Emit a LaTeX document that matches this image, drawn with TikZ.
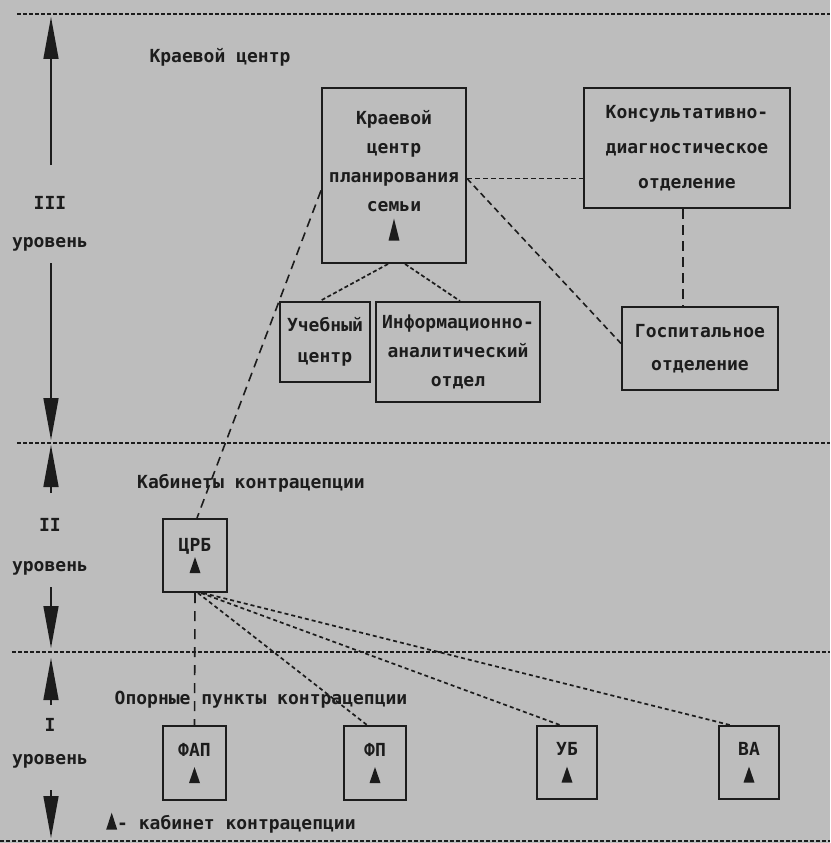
\documentclass[tikz,border=0pt]{standalone}
\usepackage{fontspec}
\setmainfont{DejaVu Sans Mono}
\usetikzlibrary{arrows.meta,positioning}
\definecolor{ScanGray}{RGB}{189,189,189}
\definecolor{InkBlack}{RGB}{28,28,28}
\newcommand{\kab}[1][16pt]{\tikz[baseline=0pt]\fill[InkBlack] (0,0)--(5.5pt,#1)--(11pt,0)--cycle;}
\tikzset{
  txt/.style={text=InkBlack,font=\fontsize{18}{29}\selectfont\bfseries,inner sep=1pt,align=center},
  unit/.style={txt,draw=InkBlack,line width=2pt,inner sep=0pt},
  sepline/.style={InkBlack,line width=2.2pt,dash pattern=on 4pt off 2pt},
  lvlarrow/.style={-{Triangle[length=42pt,width=15pt]},InkBlack,line width=1.5pt},
  longdash/.style={InkBlack,line width=1.6pt,dash pattern=on 9pt off 6pt},
  shortdash/.style={InkBlack,line width=1.7pt,dash pattern=on 4pt off 2.5pt}
}

\begin{document}
\begin{tikzpicture}[x=1pt,y=-1pt]
  \fill[ScanGray] (0,0) rectangle (830,843);
  \useasboundingbox (0,0) rectangle (830,843);
  % level borders
  \foreach \y/\x in {14/17,443/17,652/12,841/0}
    \draw[sepline] (\x,\y) -- (830,\y);
  % level marks
  \node[txt,font=\fontsize{18}{38}\selectfont\bfseries] (lvl3) at (50,224) {III\\уровень};
  \node[txt,font=\fontsize{18}{40}\selectfont\bfseries] (lvl2) at (50,547) {II\\уровень};
  \node[txt,font=\fontsize{18}{33}\selectfont\bfseries] (lvl1) at (50,743) {I\\уровень};
  \draw[lvlarrow] (51,165) -- (51,17);
  \draw[lvlarrow] (51,263) -- (51,440);
  \draw[lvlarrow] (51,493) -- (51,445);
  \draw[lvlarrow] (51,587) -- (51,648);
  \draw[lvlarrow] (51,705) -- (51,658);
  \draw[lvlarrow] (51,790) -- (51,838);
  % captions
  \node[txt] (cap3) at (220,57) {Краевой центр};
  \node[txt] (cap2) at (251,483) {Кабинеты контрацепции};
  \node[txt] (cap1) at (261,700) {Опорные пункты контрацепции};
  \node[txt,anchor=west] (legend) at (105,823) {\kab[17pt]- кабинет контрацепции};
  % level III
  \node[unit,minimum width=144pt,minimum height=175pt] (kc) at (394,175.5)
    {Краевой\\центр\\планирования\\семьи\\\kab[22pt]};
  \node[unit,font=\fontsize{18}{35}\selectfont\bfseries,minimum width=206pt,minimum height=120pt]
    (kdo) at (687,148) {Консультативно-\\диагностическое\\отделение};
  \node[unit,font=\fontsize{18}{33}\selectfont\bfseries,minimum width=156pt,minimum height=83pt]
    (gosp) at (700,348.5) {Госпитальное\\отделение};
  \node[unit,font=\fontsize{18}{31}\selectfont\bfseries,minimum width=90pt,minimum height=80pt]
    (ucheb) at (325,342) {Учебный\\центр};
  \node[unit,minimum width=164pt,minimum height=100pt] (inform) at (458,352)
    {Информационно-\\аналитический\\отдел};
  % level II
  \node[unit,font=\fontsize{18}{22}\selectfont\bfseries,minimum width=64pt,minimum height=73pt]
    (crb) at (195,555.5) {ЦРБ\\\kab};
  % level I
  \node[unit,font=\fontsize{18}{27}\selectfont\bfseries,minimum width=63pt,minimum height=74pt]
    (fap) at (194.5,763) {ФАП\\\kab};
  \node[unit,font=\fontsize{18}{27}\selectfont\bfseries,minimum width=62pt,minimum height=74pt]
    (fp) at (375,763) {ФП\\\kab};
  \node[unit,font=\fontsize{18}{27}\selectfont\bfseries,minimum width=60pt,minimum height=73pt]
    (ub) at (567,762.5) {УБ\\\kab};
  \node[unit,font=\fontsize{18}{27}\selectfont\bfseries,minimum width=60pt,minimum height=73pt]
    (va) at (749,762.5) {ВА\\\kab};
  % links
  \draw[shortdash,dash pattern=on 5pt off 3pt] ([yshift=-3pt]kc.east) -- ([yshift=-3pt]kc.east -| kdo.west);
  \draw[longdash,dash pattern=on 6pt off 4pt] ([yshift=-3pt]kc.east) -- ([yshift=5pt]gosp.west);
  \draw[longdash,dash pattern=on 10pt off 6pt] ([xshift=-4pt]kdo.south) -- ([xshift=-4pt]kdo.south |- gosp.north);
  \draw[shortdash] ([xshift=-6pt]kc.south) -- ([xshift=-5pt]ucheb.north);
  \draw[shortdash] ([xshift=11pt]kc.south) -- ([xshift=2pt]inform.north);
  \draw[longdash] ([yshift=-15pt]kc.west) -- ([xshift=2pt]crb.north);
  \draw[longdash,dash pattern=on 10pt off 8pt] (crb.south) -- (fap.north);
  \draw[shortdash,dash pattern=on 4pt off 3pt] ([xshift=3pt]crb.south) -- ([xshift=-8pt]fp.north);
  \draw[shortdash,dash pattern=on 4pt off 3pt] ([xshift=6pt]crb.south) -- ([xshift=-7pt]ub.north);
  \draw[shortdash,dash pattern=on 4pt off 3pt] ([xshift=8pt]crb.south) -- ([xshift=-19pt]va.north);
\end{tikzpicture}
\end{document}
